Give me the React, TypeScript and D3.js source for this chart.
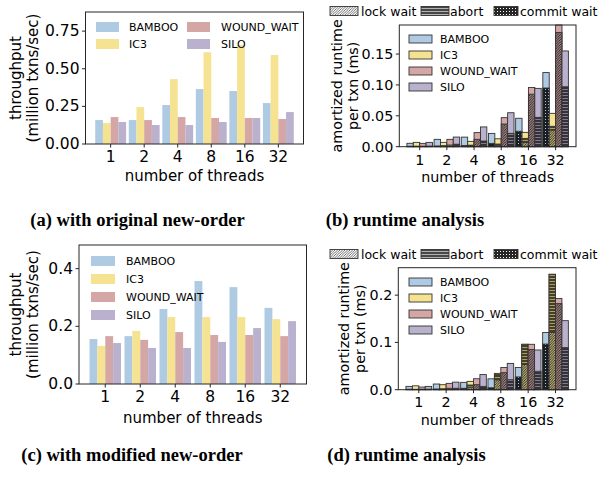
import React from "react";
import * as d3 from "d3";

const threads = ["1", "2", "4", "8", "16", "32"];
const seriesNames = ["BAMBOO", "IC3", "WOUND_WAIT", "SILO"];
const seriesColors = ["#aecbe3", "#f6e391", "#d4a6a6", "#b9b1cd"];

// (a) throughput, original new-order
const origBamboo = [0.159, 0.159, 0.259, 0.365, 0.352, 0.272];
const origIc3 = [0.139, 0.245, 0.431, 0.61, 0.657, 0.591];
const origWW = [0.179, 0.159, 0.179, 0.173, 0.173, 0.166];
const origSilo = [0.146, 0.126, 0.126, 0.146, 0.173, 0.212];

// (c) throughput, modified new-order
const modBamboo = [0.156, 0.166, 0.26, 0.357, 0.336, 0.264];
const modIc3 = [0.132, 0.184, 0.232, 0.232, 0.232, 0.225];
const modWW = [0.166, 0.153, 0.18, 0.17, 0.17, 0.166];
const modSilo = [0.142, 0.125, 0.125, 0.146, 0.194, 0.218];

// (b) runtime analysis (ms): totals and components
const bTotalBamboo = [0.0055, 0.0119, 0.0155, 0.0215, 0.046, 0.12];
const bTotalIc3 = [0.007, 0.007, 0.0086, 0.0128, 0.0232, 0.054];
const bTotalWW = [0.0054, 0.0119, 0.0228, 0.047, 0.0958, 0.197];
const bTotalSilo = [0.007, 0.0156, 0.032, 0.055, 0.0944, 0.155];
const bLockIc3 = [0.0005, 0.001, 0.0015, 0.0025, 0.007, 0.027];
const bLockWW = [0.0008, 0.0027, 0.0119, 0.0367, 0.085, 0.185];
const bAbortIc3 = [0.0003, 0.0005, 0.001, 0.0018, 0.0065, 0.006];
const bAbortSilo = [0.001, 0.004, 0.0092, 0.0216, 0.0475, 0.097];
const bCommitBamboo = [0.0008, 0.0012, 0.002, 0.0054, 0.025, 0.095];

// (d) runtime analysis (ms): totals and components
const dTotalBamboo = [0.007, 0.012, 0.0155, 0.023, 0.047, 0.121];
const dTotalIc3 = [0.0082, 0.0106, 0.0176, 0.0345, 0.096, 0.244];
const dTotalWW = [0.0056, 0.0134, 0.0232, 0.047, 0.096, 0.193];
const dTotalSilo = [0.007, 0.016, 0.032, 0.0556, 0.084, 0.146];
const dLockIc3 = [0.0005, 0.001, 0.0056, 0.021, 0.0535, 0.121];
const dLockWW = [0.001, 0.003, 0.0106, 0.036, 0.085, 0.182];
const dAbortIc3 = [0.0003, 0.0008, 0.0043, 0.011, 0.0425, 0.123];
const dAbortSilo = [0.001, 0.003, 0.007, 0.021, 0.039, 0.089];
const dCommitBamboo = [0.001, 0.0015, 0.003, 0.004, 0.027, 0.0965];

const zeros = [0, 0, 0, 0, 0, 0];

const aTicks = [0, 0.25, 0.5, 0.75];
const cTicks = [0, 0.2, 0.4];
const bTicks = [0, 0.05, 0.1, 0.15];
const dTicks = [0, 0.1, 0.2];

const componentNames = ["lock wait", "abort", "commit wait"];
const componentPatterns = ["hLock", "hAbort", "hCommit"];

const SANS = "DejaVu Sans";
const SERIF = "Liberation Serif";
const SPINE = "#262626";

type Box = { l: number; r: number; t: number; b: number };

function Axes({ box, ymax, ticks, fmt, fs, tickLabelY, ylabel, ylabX, xLabelY, xlabelFs, children }: any) {
  const x = d3.scaleLinear().domain([-0.75, 5.75]).range([box.l, box.r]);
  const y = d3.scaleLinear().domain([0, ymax]).range([box.b, box.t]);
  const yMid = (box.t + box.b) / 2;
  return (
    <g>
      {children(x, y)}
      <rect x={box.l} y={box.t} width={box.r - box.l} height={box.b - box.t} fill="none" stroke={SPINE} strokeWidth={1} />
      {ticks.map((t: number) => (
        <g key={"yt" + t}>
          <line x1={box.l - 3.5} x2={box.l} y1={y(t)} y2={y(t)} stroke={SPINE} />
          <text x={box.l - 6} y={y(t)} textAnchor="end" dominantBaseline="central" fontFamily={SANS} fontSize={fs}>
            {d3.format(fmt)(t)}
          </text>
        </g>
      ))}
      {threads.map((t, i) => (
        <g key={"xt" + t}>
          <line x1={x(i)} x2={x(i)} y1={box.b} y2={box.b + 3.5} stroke={SPINE} />
          <text x={x(i)} y={tickLabelY} textAnchor="middle" dominantBaseline="central" fontFamily={SANS} fontSize={fs}>
            {t}
          </text>
        </g>
      ))}
      <text x={(box.l + box.r) / 2} y={xLabelY} textAnchor="middle" dominantBaseline="central" fontFamily={SANS} fontSize={xlabelFs}>
        number of threads
      </text>
      {ylabel.map((s: string, k: number) => (
        <text key={s} transform={`translate(${ylabX[k]},${yMid}) rotate(-90)`} textAnchor="middle" dominantBaseline="central" fontFamily={SANS} fontSize={xlabelFs}>
          {s}
        </text>
      ))}
    </g>
  );
}

function GroupedBars({ x, y, data, bw }: any) {
  return (
    <g>
      {data.map((vals: number[], s: number) =>
        vals.map((v, g) => {
          const cx = x(g) + (s - 1.5) * (x(bw) - x(0));
          const w = x(bw) - x(0);
          return <rect key={s + "-" + g} x={cx - w / 2} y={y(v)} width={w} height={y(0) - y(v)} fill={seriesColors[s]} />;
        })
      )}
    </g>
  );
}

function StackedBars({ x, y, totals, comps, bw }: any) {
  const w = x(bw) - x(0);
  const out: any[] = [];
  totals.forEach((vals: number[], s: number) => {
    vals.forEach((v, g) => {
      const cx = x(g) + (s - 1.5) * w;
      const x0 = cx - w / 2;
      out.push(<rect key={"t" + s + g} x={x0} y={y(v)} width={w} height={y(0) - y(v)} fill={seriesColors[s]} stroke="#333" strokeWidth={0.9} />);
      let base = 0;
      comps[s].forEach((arr: number[], k: number) => {
        const c = arr[g];
        if (c <= 0) return;
        const y1 = y(base + c);
        const y0 = y(base);
        out.push(
          <g key={"c" + s + g + k}>
            <rect x={x0} y={y1} width={w} height={y0 - y1} fill={seriesColors[s]} />
            <rect x={x0} y={y1} width={w} height={y0 - y1} fill={`url(#${componentPatterns[k]})`} stroke="#333" strokeWidth={0.9} />
          </g>
        );
        base += c;
      });
    });
  });
  return <g>{out}</g>;
}

function SeriesLegend({ items, fs, pw, ph, edge }: any) {
  return (
    <g>
      {items.map((it: any) => (
        <g key={it.s}>
          <rect x={it.px} y={it.py} width={pw} height={ph} fill={seriesColors[it.s]} stroke={edge ? "#333" : "none"} strokeWidth={0.9} />
          <text x={it.tx} y={it.py + ph / 2} dominantBaseline="central" fontFamily={SANS} fontSize={fs}>
            {seriesNames[it.s]}
          </text>
        </g>
      ))}
    </g>
  );
}

function ComponentLegend({ py }: any) {
  const px = [330, 421, 494];
  const tx = [361, 450, 520];
  return (
    <g>
      {componentNames.map((n, k) => (
        <g key={n}>
          <rect x={px[k]} y={py} width={k === 2 ? 24 : 28} height={9} fill="#fff" />
          <rect x={px[k]} y={py} width={k === 2 ? 24 : 28} height={9} fill={`url(#${k === 0 ? "hLockLegend" : componentPatterns[k]})`} stroke="#333" strokeWidth={0.9} />
          <text x={tx[k]} y={py + 4.5} dominantBaseline="central" fontFamily={SANS} fontSize={12.5}>
            {n}
          </text>
        </g>
      ))}
    </g>
  );
}

export default function App() {
  const boxA: Box = { l: 85.5, r: 303.5, t: 12, b: 144 };
  const boxC: Box = { l: 79, r: 306.5, t: 245, b: 384 };
  const boxB: Box = { l: 399.3, r: 576, t: 25, b: 146.7 };
  const boxD: Box = { l: 398.3, r: 576, t: 267.7, b: 389.7 };

  const dataA = [origBamboo, origIc3, origWW, origSilo];
  const dataC = [modBamboo, modIc3, modWW, modSilo];
  const totB = [bTotalBamboo, bTotalIc3, bTotalWW, bTotalSilo];
  const compB = [
    [zeros, zeros, bCommitBamboo],
    [bLockIc3, bAbortIc3, zeros],
    [bLockWW, zeros, zeros],
    [zeros, bAbortSilo, zeros],
  ];
  const totD = [dTotalBamboo, dTotalIc3, dTotalWW, dTotalSilo];
  const compD = [
    [zeros, zeros, dCommitBamboo],
    [dLockIc3, dAbortIc3, zeros],
    [dLockWW, zeros, zeros],
    [zeros, dAbortSilo, zeros],
  ];

  return (
    <svg width={598} height={477} style={{ position: "absolute", left: 0, top: 0, background: "#fff" }}>
      <defs>
        <pattern id="hLock" width={2.5} height={2.5} patternUnits="userSpaceOnUse">
          <path d="M-1,1 L1,-1 M0,2.5 L2.5,0 M1.5,3.5 L3.5,1.5" stroke="#1a1a1a" strokeWidth={0.95} />
        </pattern>
        <pattern id="hLockLegend" width={2.5} height={2.5} patternUnits="userSpaceOnUse">
          <path d="M-1,1 L1,-1 M0,2.5 L2.5,0 M1.5,3.5 L3.5,1.5" stroke="#333" strokeWidth={0.7} />
        </pattern>
        <pattern id="hAbort" width={3} height={3} patternUnits="userSpaceOnUse">
          <rect x={0} y={0} width={3} height={2} fill="#000" fillOpacity={0.72} />
          <rect x={0} y={2} width={3} height={1} fill="#000" fillOpacity={0.3} />
        </pattern>
        <pattern id="hCommit" width={3} height={3} patternUnits="userSpaceOnUse">
          <rect x={0} y={0} width={3} height={2} fill="#000" fillOpacity={0.85} />
          <rect x={0} y={2} width={2} height={1} fill="#000" fillOpacity={0.85} />
        </pattern>
      </defs>
      <rect x={0} y={0} width={598} height={477} fill="#fff" />

      {/* (a) */}
      <Axes box={boxA} ymax={0.877} ticks={aTicks} fmt=".2f" fs={15.5} tickLabelY={157} xLabelY={176} xlabelFs={15}
        ylabel={["throughput", "(million txns/sec)"]} ylabX={[16, 33]}>
        {(x: any, y: any) => <GroupedBars x={x} y={y} data={dataA} bw={0.23} />}
      </Axes>
      <SeriesLegend fs={11} pw={23} ph={10} edge={false} items={[
        { s: 0, px: 96, py: 22, tx: 129 },
        { s: 1, px: 96, py: 39, tx: 129 },
        { s: 2, px: 187, py: 22, tx: 221 },
        { s: 3, px: 187, py: 39, tx: 221 },
      ]} />

      {/* (c) */}
      <Axes box={boxC} ymax={0.482} ticks={cTicks} fmt=".1f" fs={15.5} tickLabelY={396.5} xLabelY={418} xlabelFs={15}
        ylabel={["throughput", "(million txns/sec)"]} ylabX={[16, 33]}>
        {(x: any, y: any) => <GroupedBars x={x} y={y} data={dataC} bw={0.225} />}
      </Axes>
      <SeriesLegend fs={11} pw={24} ph={10} edge={false} items={[
        { s: 0, px: 91, py: 256, tx: 126 },
        { s: 1, px: 91, py: 274, tx: 126 },
        { s: 2, px: 91, py: 292, tx: 126 },
        { s: 3, px: 91, py: 310, tx: 126 },
      ]} />

      {/* (b) */}
      <Axes box={boxB} ymax={0.197} ticks={bTicks} fmt=".2f" fs={14.3} tickLabelY={160} xLabelY={176.5} xlabelFs={14.3}
        ylabel={["amortized runtime", "per txn (ms)"]} ylabX={[337, 353]}>
        {(x: any, y: any) => <StackedBars x={x} y={y} totals={totB} comps={compB} bw={0.235} />}
      </Axes>
      <SeriesLegend fs={11} pw={23} ph={8} edge={true} items={[
        { s: 0, px: 409, py: 35, tx: 440 },
        { s: 1, px: 409, py: 51, tx: 440 },
        { s: 2, px: 409, py: 67, tx: 440 },
        { s: 3, px: 409, py: 83, tx: 440 },
      ]} />
      <ComponentLegend py={6.5} />

      {/* (d) */}
      <Axes box={boxD} ymax={0.258} ticks={dTicks} fmt=".1f" fs={14.3} tickLabelY={402} xLabelY={420} xlabelFs={14.3}
        ylabel={["amortized runtime", "per txn (ms)"]} ylabX={[344, 360]}>
        {(x: any, y: any) => <StackedBars x={x} y={y} totals={totD} comps={compD} bw={0.235} />}
      </Axes>
      <SeriesLegend fs={11} pw={23} ph={8} edge={true} items={[
        { s: 0, px: 409, py: 278, tx: 440 },
        { s: 1, px: 409, py: 294, tx: 440 },
        { s: 2, px: 409, py: 310, tx: 440 },
        { s: 3, px: 409, py: 326, tx: 440 },
      ]} />
      <ComponentLegend py={249.5} />

      {/* captions */}
      <text x={137.5} y={226} textAnchor="middle" fontFamily={SERIF} fontWeight="bold" fontSize={18.5}>(a) with original new-order</text>
      <text x={405} y={226} textAnchor="middle" fontFamily={SERIF} fontWeight="bold" fontSize={18.5}>(b) runtime analysis</text>
      <text x={132} y={461} textAnchor="middle" fontFamily={SERIF} fontWeight="bold" fontSize={18.5}>(c) with modified new-order</text>
      <text x={406.5} y={461} textAnchor="middle" fontFamily={SERIF} fontWeight="bold" fontSize={18.5}>(d) runtime analysis</text>
    </svg>
  );
}
